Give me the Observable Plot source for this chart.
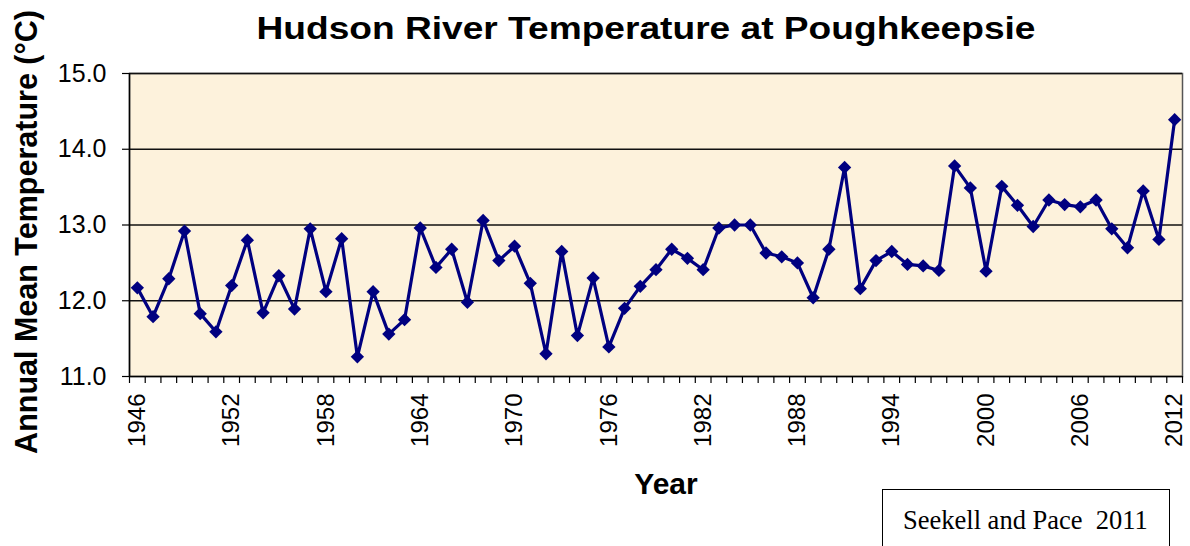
<!DOCTYPE html>
<html>
<head>
<meta charset="utf-8">
<script src="https://cdn.jsdelivr.net/npm/d3@7"></script>
<script src="https://cdn.jsdelivr.net/npm/@observablehq/plot@0.6"></script>
<style>
  html, body { margin: 0; padding: 0; background: #ffffff; }
  #wrap { position: relative; width: 1190px; height: 546px; overflow: hidden; font-family: "Liberation Sans", Arial, sans-serif; }
  #chart { position: absolute; left: 0; top: 0; }
  .title { position: absolute; left: 646px; top: 10px; transform: translateX(-50%) scaleX(1.16); transform-origin: center; font-weight: bold; font-size: 32px; color: #000; white-space: nowrap; }
  .ylab { position: absolute; left: 26px; top: 232px; transform: translate(-50%, -50%) rotate(-90deg); font-weight: bold; font-size: 30.5px; white-space: nowrap; color: #000; }
  .xlab { position: absolute; left: 666px; top: 467px; transform: translateX(-50%); font-weight: bold; font-size: 30px; color: #000; white-space: nowrap; }
  .src { position: absolute; left: 882px; top: 489px; width: 288px; height: 80px; border: 1.5px solid #000; box-sizing: border-box; font-family: "Liberation Serif", "Times New Roman", serif; font-size: 26.5px; white-space: pre; padding: 15px 0 0 20px; background: #fff; }
</style>
</head>
<body>
<div id="wrap">
  <div id="chart"></div>
  <div class="title">Hudson River Temperature at Poughkeepsie</div>
  <div class="ylab">Annual Mean Temperature (°C)</div>
  <div class="xlab">Year</div>
  <div class="src">Seekell and Pace  2011</div>
</div>
<script>
const years = d3.range(1946, 2013);
const temps = [
  12.17, 11.79, 12.29, 12.92, 11.83, 11.59, 12.20, 12.80, 11.84, 12.33,
  11.89, 12.95, 12.12, 12.82, 11.26, 12.12, 11.56, 11.75, 12.96, 12.44,
  12.68, 11.98, 13.06, 12.53, 12.72, 12.23, 11.30, 12.65, 11.54, 12.30,
  11.39, 11.90, 12.19, 12.41, 12.68, 12.56, 12.41, 12.96, 13.00, 13.00,
  12.63, 12.58, 12.50, 12.04, 12.68, 13.76, 12.16, 12.53, 12.65, 12.48,
  12.46, 12.40, 13.78, 13.49, 12.39, 13.51, 13.26, 12.98, 13.33, 13.27,
  13.24, 13.33, 12.95, 12.70, 13.45, 12.81, 14.39
];
const yTicks = [11, 12, 13, 14, 15];
const xLabelYears = [1946, 1952, 1958, 1964, 1970, 1976, 1982, 1988, 1994, 2000, 2006, 2012];

const data = years.map((year, i) => ({year, temp: temps[i]}));
const edges = d3.range(years[0] - 0.5, years[years.length - 1] + 1, 1);

const chart = Plot.plot({
  width: 1190,
  height: 546,
  marginLeft: 129,
  marginRight: 8,
  marginTop: 73,
  marginBottom: 170,
  style: { fontFamily: "Liberation Sans, Arial, sans-serif", background: "transparent", color: "#000" },
  x: { domain: [edges[0], edges[edges.length - 1]] },
  y: { domain: [11, 15] },
  marks: [
    Plot.frame({ fill: "#fdf2dc", stroke: "#555", strokeWidth: 1.5 }),
    Plot.ruleY([12, 13, 14, 15], { stroke: "#111", strokeWidth: 1.5 }),
    Plot.ruleX([edges[0]], { stroke: "#000", strokeWidth: 1.5 }),
    Plot.ruleY([11], { stroke: "#000", strokeWidth: 1.5 }),
    Plot.axisY({ ticks: yTicks, tickFormat: d => d.toFixed(1), tickSize: 7, tickPadding: 16, fontSize: 25, label: null, strokeWidth: 1.2 }),
    Plot.axisX({ ticks: edges, tickSize: 7, tickFormat: () => "", label: null, strokeWidth: 1.2 }),
    Plot.axisX({ ticks: xLabelYears, tickSize: 0, tickRotate: -90, tickPadding: 17, fontSize: 24, tickFormat: d => String(d), label: null }),
    Plot.line(data, { x: "year", y: "temp", stroke: "#000080", strokeWidth: 3.2 }),
    Plot.dot(data, { x: "year", y: "temp", symbol: "diamond2", r: 6, fill: "#000080", stroke: "none" })
  ]
});
document.getElementById("chart").appendChild(chart);
</script>
</body>
</html>
